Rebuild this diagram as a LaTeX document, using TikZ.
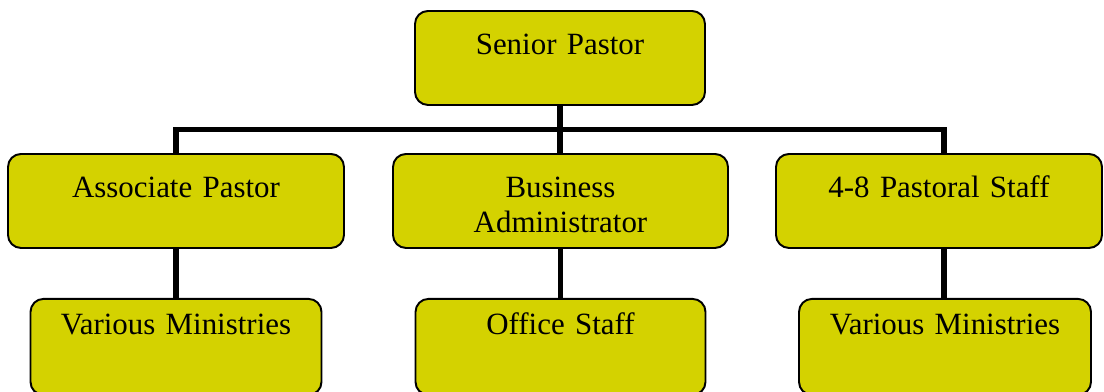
\documentclass[tikz,border=0pt]{standalone}
\usepackage{fontspec}
\setmainfont{Liberation Serif}
\usepackage{tikz}
\usetikzlibrary{calc,positioning}
\usepackage{color}
\definecolor{boxfill}{RGB}{212,210,0}
\tikzstyle{box} = [rectangle, rounded corners=0.26cm, draw=black, line width=1.1pt, fill=boxfill, inner sep=0pt, align=center, text height=0.88cm, text depth=1.0cm, font=\fontsize{17.6}{19.9}\selectfont]
\tikzstyle{lowbox} = [box, text height=0.72cm, text depth=1.2cm]

\begin{document}
\begin{tikzpicture}
            \useasboundingbox (0,0) rectangle (22.08,-7.82);
            \node[box, anchor=north, text width=5.8cm] (SP) at (11.2,-0.2) {Senior Pastor};

            % second row
            \node[box, anchor=north, text width=6.72cm] (AP) at (3.52,-3.06) {Associate Pastor};
            \node[box, anchor=north, text width=6.7cm] (BA) at (11.21,-3.06) {Business\\Administrator};
            \node[box, anchor=north, text width=6.52cm] (PS) at (18.78,-3.06) {4-8 Pastoral Staff};

            % third row
            \node[lowbox, anchor=north, text width=5.82cm] (APMin) at ($(AP.south) + (0,-0.98)$) {Various Ministries};
            \node[lowbox, anchor=north, text width=5.8cm] (BAOff) at ($(BA.south) + (0,-0.98)$) {Office Staff};
            \node[lowbox, anchor=north, text width=5.84cm] (PSMin) at ($(PS.south) + (0.12,-0.98)$) {Various Ministries};

            \coordinate (bus) at ($(SP.south)!0.5!(BA.north)$);
            \coordinate (PSTop) at ($(PS.north) + (0.1,0)$);
            \coordinate (PSDrop) at ($(PS.south) + (0.1,0)$);
            \path
                [black, draw, line width=3pt]
                (SP.south) -- (SP.south |- BA.north)
                (AP.north) |- (bus) -| (PSTop);
            \path
                [black, draw, line width=3pt]
                (AP.south) -- (AP.south |- APMin.north)
                (BA.south) -- (BA.south |- BAOff.north)
                (PSDrop) -- (PSDrop |- PSMin.north);
        \end{tikzpicture}
\end{document}
